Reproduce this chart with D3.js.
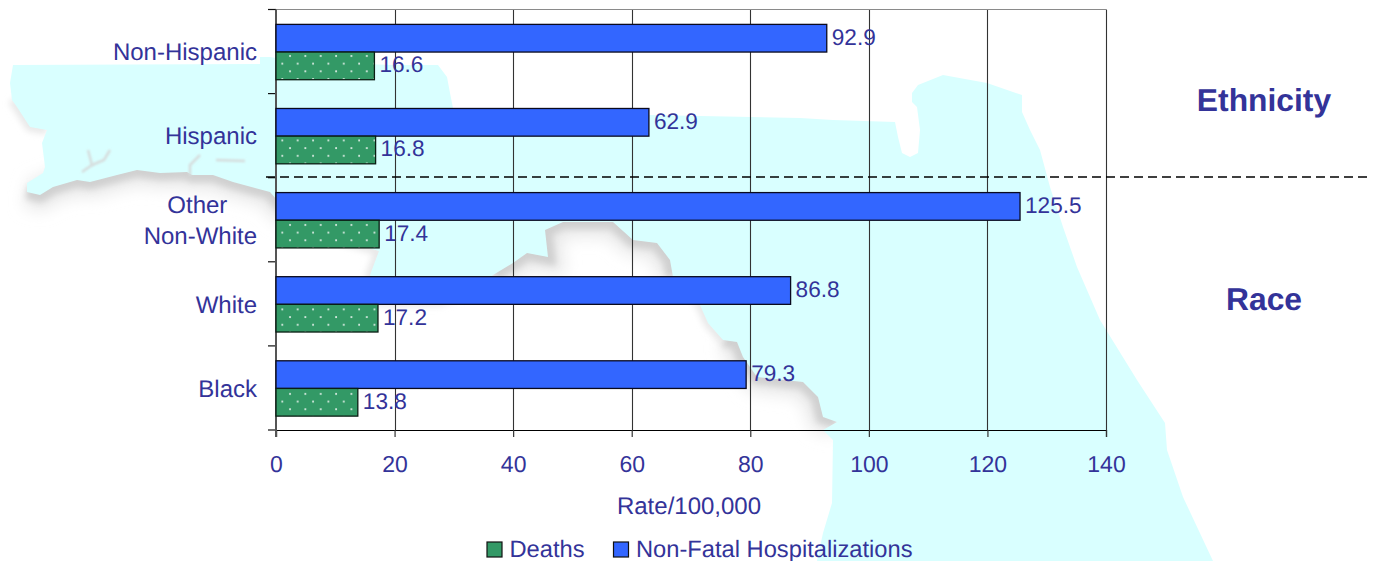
<!DOCTYPE html>
<html>
<head>
<meta charset="utf-8">
<script src="https://cdn.jsdelivr.net/npm/d3@7"></script>
<style>
html,body{margin:0;padding:0;background:#fff;overflow:hidden}
svg{display:block}
text{font-family:"Liberation Sans",Arial,sans-serif;fill:#333399;text-rendering:geometricPrecision}
</style>
</head>
<body>
<svg id="chart" width="1375" height="561"></svg>
<script>
const categories = ["Non-Hispanic","Hispanic","Other\nNon-White","White","Black"];
const deaths = [16.6,16.8,17.4,17.2,13.8];
const hospitalizations = [92.9,62.9,125.5,86.8,79.3];
const xTicks = [0,20,40,60,80,100,120,140];
const seriesNames = ["Deaths","Non-Fatal Hospitalizations"];
const groupLabels = ["Ethnicity","Race"];
const axisTitle = "Rate/100,000";

// Decorative background map of Florida (outline)
const seaOutline = [[13,65],[10,83],[12,100],[17,107],[30,127],[47,130],[42,143],[45,167],[43,173],[27,183],[27,192],[40,195],[53,187],[77,180],[90,182],[117,175],[137,170],[160,173],[187,172],[192,175],[213,175],[233,182],[270,192],[290,215],[340,240],[379,251],[370,275],[380,302],[440,302],[480,287],[493,275],[513,263],[527,253],[548,257],[545,230],[563,222],[613,222],[633,240],[657,243],[670,260],[673,277],[700,305],[708,323],[723,340],[737,342],[743,357],[757,377],[803,382],[818,397],[823,417],[837,422],[823,430],[833,440],[832,503],[823,533],[817,561],[1213,561],[1183,497],[1167,450],[1165,423],[1137,380],[1100,320],[1077,267],[1063,227],[1050,187],[1040,150],[1030,130],[1022,112],[1022,95],[987,83],[943,75],[918,85],[912,93],[912,102],[917,107],[920,130],[918,153],[910,157],[902,153],[898,137],[895,122],[833,120],[800,118],[650,115],[453,108],[450,93],[447,77],[438,65],[393,65],[300,62],[270,57],[260,57],[260,64]];
const coastStrong = [seaOutline.slice(10,24), seaOutline.slice(30,41), seaOutline.slice(43,51)];
const coastWeak = [seaOutline.slice(2,6), seaOutline.slice(24,31), seaOutline.slice(40,44)];
const estuaries = [[[88,150],[92,165],[82,172]],[[92,165],[104,160],[110,150]],[[200,155],[190,165],[190,176]],[[216,160],[245,161]]];

const svg = d3.select("#chart");
const defs = svg.append("defs");
[["b1",8],["b2",3],["b3",0.8]].forEach(([id,s])=>{
  defs.append("filter").attr("id",id).attr("filterUnits","userSpaceOnUse")
    .attr("x",-50).attr("y",-50).attr("width",1475).attr("height",661)
    .append("feGaussianBlur").attr("stdDeviation",s);
});
const pat = defs.append("pattern").attr("id","dots").attr("patternUnits","userSpaceOnUse")
  .attr("width",15.36).attr("height",15.36).attr("patternTransform","translate(288,54)");
pat.append("rect").attr("width",15.36).attr("height",15.36).attr("fill","#339966");
pat.append("circle").attr("cx",2).attr("cy",2).attr("r",1).attr("fill","#e6f2ec");
pat.append("circle").attr("cx",9.68).attr("cy",9.68).attr("r",1).attr("fill","#e6f2ec");

const line = d3.line();
const map = svg.append("g");
map.selectAll(".wide").data(coastStrong).join("path").attr("class","wide").attr("d",line).attr("fill","none").attr("stroke","#e8e8e8").attr("stroke-width",30).attr("filter","url(#b1)");
map.selectAll(".strong").data(coastStrong).join("path").attr("class","strong").attr("d",line).attr("fill","none").attr("stroke","#d0d0d0").attr("stroke-width",14).attr("filter","url(#b2)");
map.selectAll(".weak").data(coastWeak).join("path").attr("class","weak").attr("d",line).attr("fill","none").attr("stroke","#e8e8e8").attr("stroke-width",9).attr("filter","url(#b2)");
map.append("path").attr("d",line(seaOutline)+"Z").attr("fill","#d9ffff");
map.selectAll(".est").data(estuaries).join("path").attr("class","est").attr("d",line)
  .attr("fill","none").attr("stroke","#d6dcdc").attr("stroke-width",2.5).attr("filter","url(#b3)");

// Scales
const x = d3.scaleLinear().domain([0,140]).range([276,1106]);
const y = d3.scaleBand().domain(categories).range([9.5,430]);
const inner = d3.scaleBand().domain(["hosp","deaths"]).range([0.5,y.bandwidth()+0.5]).paddingOuter(0.52).paddingInner(0);
const yEdges = d3.range(categories.length+1).map(i=>9.5+i*y.bandwidth());

// Grid
svg.append("g").selectAll("line").data(xTicks.slice(1)).join("line")
  .attr("x1",d=>Math.round(x(d))+.5).attr("x2",d=>Math.round(x(d))+.5)
  .attr("y1",9.5).attr("y2",430).attr("stroke","#333").attr("stroke-width",1.1);
svg.append("line").attr("x1",276).attr("x2",1106).attr("y1",9.5).attr("y2",9.5).attr("stroke","#8a8a8a").attr("stroke-width",1.2);

// Axes
const xAxis = d3.axisBottom(x).tickValues(xTicks).tickSize(7).tickPadding(19).tickFormat(d3.format("d"));
const gx = svg.append("g").attr("transform","translate(0,430)").call(xAxis);
gx.select(".domain").attr("stroke","#000").attr("stroke-width",1.2);
gx.selectAll(".tick line").attr("stroke","#333").attr("stroke-width",1.2);
gx.selectAll("text").attr("font-size",23).style("font-family",'"Liberation Sans",Arial,sans-serif').attr("fill","#333399");

svg.append("g").selectAll("line").data(yEdges).join("line")
  .attr("x1",268).attr("x2",276).attr("y1",d=>d).attr("y2",d=>d).attr("stroke","#111").attr("stroke-width",1.2);
svg.append("line").attr("x1",276).attr("x2",276).attr("y1",9.5).attr("y2",437).attr("stroke","#555").attr("stroke-width",2);

const catG = svg.append("g").attr("font-size",24);
categories.forEach(c=>{
  const lines = c.split("\n");
  const cy = y(c)+y.bandwidth()/2;
  const t = catG.append("text");
  const spans = lines.map((s,i)=>t.append("tspan").text(s));
  const widest = d3.max(spans,s=>s.node().getComputedTextLength());
  spans.forEach((s,i)=>s.attr("x",(i===0&&lines.length>1?254:257)-widest/2).attr("text-anchor","middle")
    .attr("y",cy+8.7+(i-(lines.length-1)/2)*31));
});

// Bars
svg.append("g").selectAll("rect").data(hospitalizations).join("rect")
  .attr("x",x(0)).attr("y",(d,i)=>y(categories[i])+inner("hosp")).attr("width",d=>x(d)-x(0)).attr("height",inner.bandwidth())
  .attr("fill","#3366ff").attr("stroke","#0a0a1e").attr("stroke-width",1.3);
svg.append("g").selectAll("rect").data(deaths).join("rect")
  .attr("x",x(0)).attr("y",(d,i)=>y(categories[i])+inner("deaths")).attr("width",d=>x(d)-x(0)).attr("height",inner.bandwidth())
  .attr("fill","url(#dots)").attr("stroke","#0a1e14").attr("stroke-width",1.3);

// Value labels
const fmt = d3.format(".1f");
svg.append("g").attr("font-size",22.6).selectAll("text").data(hospitalizations).join("text")
  .attr("x",d=>x(d)+5).attr("y",(d,i)=>y(categories[i])+inner("hosp")+inner.bandwidth()/2+6.5).text(fmt);
svg.append("g").attr("font-size",22.6).selectAll("text").data(deaths).join("text")
  .attr("x",d=>x(d)+5).attr("y",(d,i)=>y(categories[i])+inner("deaths")+inner.bandwidth()/2+6.5).text(fmt);

// Separator
svg.append("line").attr("x1",266).attr("x2",1367).attr("y1",177).attr("y2",177)
  .attr("stroke","#000").attr("stroke-width",1.6).attr("stroke-dasharray","9 5");

// Titles
svg.append("text").attr("x",689).attr("y",514).attr("text-anchor","middle").attr("font-size",24).text(axisTitle);
svg.selectAll(".grp").data(groupLabels).join("text").attr("class","grp")
  .attr("x",1264).attr("y",(d,i)=>i?310:111).attr("text-anchor","middle").attr("font-size",31.8).attr("font-weight","bold").text(d=>d);

// Legend
const legX = d3.scaleOrdinal().domain(seriesNames).range([487,613.5]);
const leg = svg.append("g").selectAll("g").data(seriesNames).join("g").attr("transform",d=>`translate(${legX(d)},542)`);
leg.append("rect").attr("width",15).attr("height",15)
  .attr("fill",(d,i)=>i?"#3366ff":"#339966").attr("stroke","#111").attr("stroke-width",1.2);
leg.append("text").attr("x",22.5).attr("y",14.5).attr("font-size",23.7).text(d=>d);
</script>
</body>
</html>
